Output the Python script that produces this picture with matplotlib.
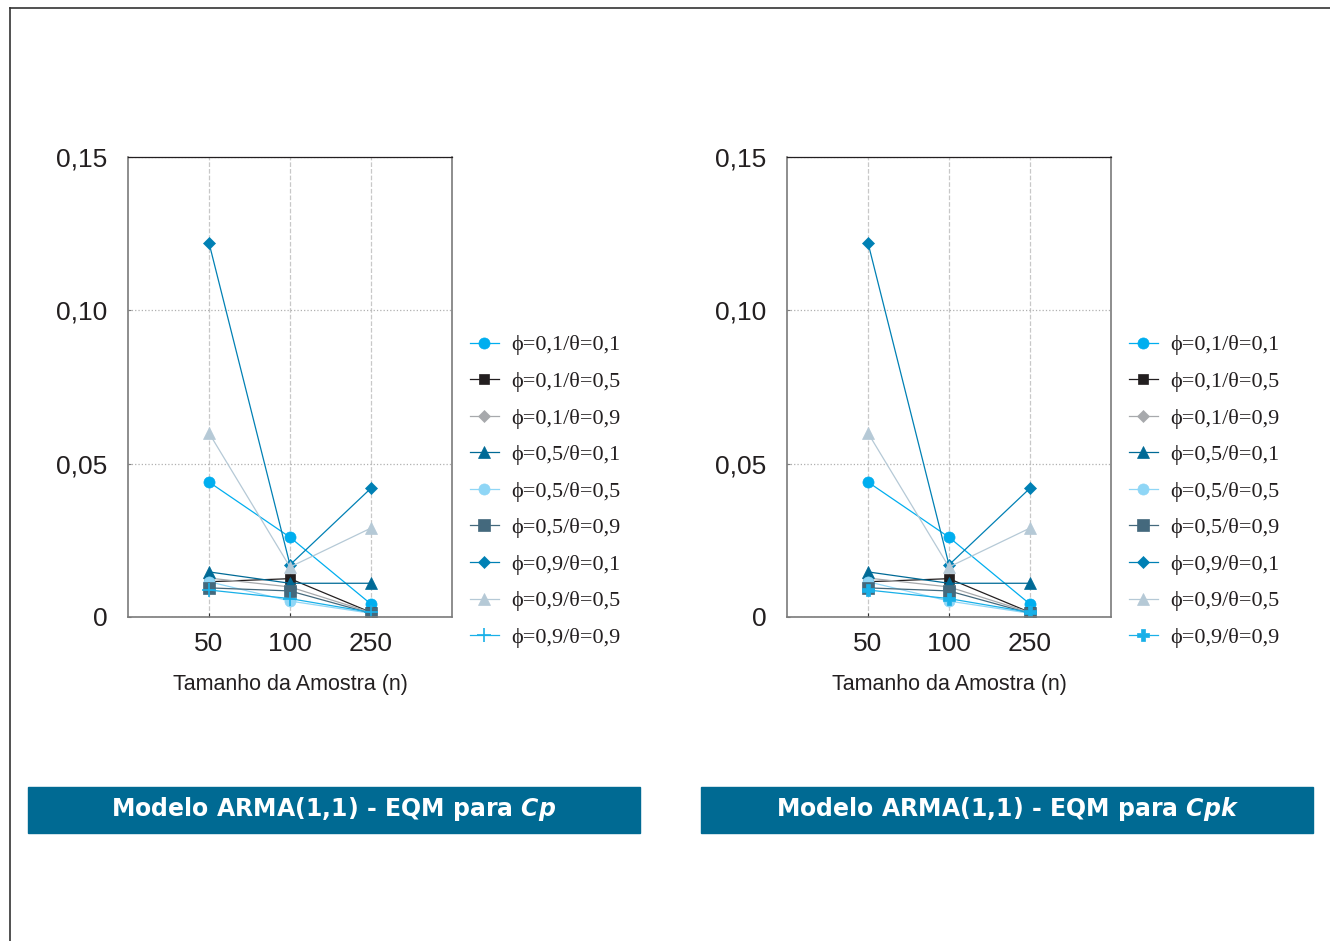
import matplotlib.pyplot as plt
from matplotlib.lines import Line2D
from matplotlib.patches import Rectangle

# sample sizes (categorical axis)
sizes = ["50", "100", "250"]

labels = [
    "\u03d5=0,1/\u03b8=0,1", "\u03d5=0,1/\u03b8=0,5", "\u03d5=0,1/\u03b8=0,9",
    "\u03d5=0,5/\u03b8=0,1", "\u03d5=0,5/\u03b8=0,5", "\u03d5=0,5/\u03b8=0,9",
    "\u03d5=0,9/\u03b8=0,1", "\u03d5=0,9/\u03b8=0,5", "\u03d5=0,9/\u03b8=0,9",
]

# EQM values, one row per series (n = 50, 100, 250)
eqm_cp = [
    [0.044, 0.026, 0.0042],
    [0.0115, 0.0125, 0.0015],
    [0.0127, 0.0098, 0.0015],
    [0.0147, 0.0110, 0.0110],
    [0.0115, 0.0052, 0.0012],
    [0.0095, 0.0085, 0.0012],
    [0.122, 0.0170, 0.042],
    [0.060, 0.0163, 0.029],
    [0.0088, 0.0060, 0.0015],
]
eqm_cpk = [
    [0.044, 0.026, 0.0042],
    [0.0115, 0.0125, 0.0015],
    [0.0127, 0.0098, 0.0015],
    [0.0147, 0.0110, 0.0110],
    [0.0115, 0.0052, 0.0012],
    [0.0095, 0.0085, 0.0012],
    [0.122, 0.0170, 0.042],
    [0.060, 0.0163, 0.029],
    [0.0088, 0.0060, 0.0015],
]

colors = ["#00aeef", "#231f20", "#a7a9ac", "#006a96", "#8fd6f6",
          "#44697d", "#0080b4", "#b5c9d6", "#19b0e8"]
markers = ["o", "s", "D", "^", "o", "s", "D", "^", "+"]
msizes = [8, 7, 6, 8, 8, 8, 6, 8, 10]

titles = ["Modelo ARMA(1,1) - EQM para $\\mathbfit{Cp}$",
          "Modelo ARMA(1,1) - EQM para $\\mathbfit{Cpk}$"]

W, H = 1330, 941
fig = plt.figure(figsize=(W / 100, H / 100), dpi=100)

# page border lines
fig.add_artist(Line2D([10 / W, 1], [1 - 8 / H, 1 - 8 / H], color="#333333", lw=1.2))
fig.add_artist(Line2D([10 / W, 10 / W], [0, 1 - 8 / H], color="#333333", lw=1.2))

panels = [(128, eqm_cp, "+", 28), (787, eqm_cpk, "P", 701)]

for (x0, data, last_marker, bx), title in zip(panels, titles):
    ax = fig.add_axes([x0 / W, 1 - 617 / H, 324 / W, 460 / H])
    xs = [1, 2, 3]
    handles = []
    for i, row in enumerate(data):
        m = markers[i] if i < 8 else last_marker
        ms = msizes[i] if i < 8 else (10 if m == "+" else 8)
        h, = ax.plot(xs, row, color=colors[i], lw=0.9, marker=m, ms=ms,
                     mew=1.2 if m == "+" else 0.5, mec=colors[i], label=labels[i])
        handles.append(h)

    ax.set_xlim(0, 4)
    ax.set_ylim(0, 0.15)
    ax.set_xticks(xs)
    ax.set_xticklabels(sizes)
    ax.set_yticks([0, 0.05, 0.10, 0.15])
    ax.set_yticklabels(["0", "0,05", "0,10", "0,15"])
    for t in ax.get_xticklabels() + ax.get_yticklabels():
        t.set_fontfamily("Liberation Sans")
        t.set_fontsize(19)
        t.set_color("#231f20")
    ax.tick_params(axis="y", direction="in", length=2, pad=15, color="#808080")
    ax.tick_params(axis="x", direction="in", length=3, pad=11, color="#333333")

    ax.grid(axis="x", color="#c8c8c8", ls="--", lw=0.9)
    ax.grid(axis="y", color="#b0b0b0", ls=":", lw=0.9)
    ax.set_axisbelow(True)
    for s in ["left", "bottom", "right"]:
        ax.spines[s].set_color("#7a7a7a")
        ax.spines[s].set_linewidth(1.2)
    ax.spines["top"].set_color("#231f20")
    ax.spines["top"].set_linewidth(0.9)

    ax.set_xlabel("Tamanho da Amostra (n)", fontsize=15.5, family="Liberation Sans",
                  color="#231f20", labelpad=13)

    leg = fig.legend(handles=handles, loc="upper left",
                     bbox_to_anchor=((x0 + 333) / W, 1 - 326 / H),
                     frameon=False, handlelength=1.3, handletextpad=0.55,
                     labelspacing=0.72, borderaxespad=0,
                     prop={"family": ["Liberation Serif", "DejaVu Serif"], "size": 16})
    for t in leg.get_texts():
        t.set_color("#231f20")

    # title banner
    fig.add_artist(Rectangle((bx / W, 1 - 833 / H), 612 / W, 46 / H,
                             transform=fig.transFigure, color="#006a93"))
    fig.text((bx + 306) / W, 1 - 809 / H, title, color="white", fontsize=17,
             fontweight="bold", ha="center", va="center")

fig.savefig("out.png", dpi=100)
